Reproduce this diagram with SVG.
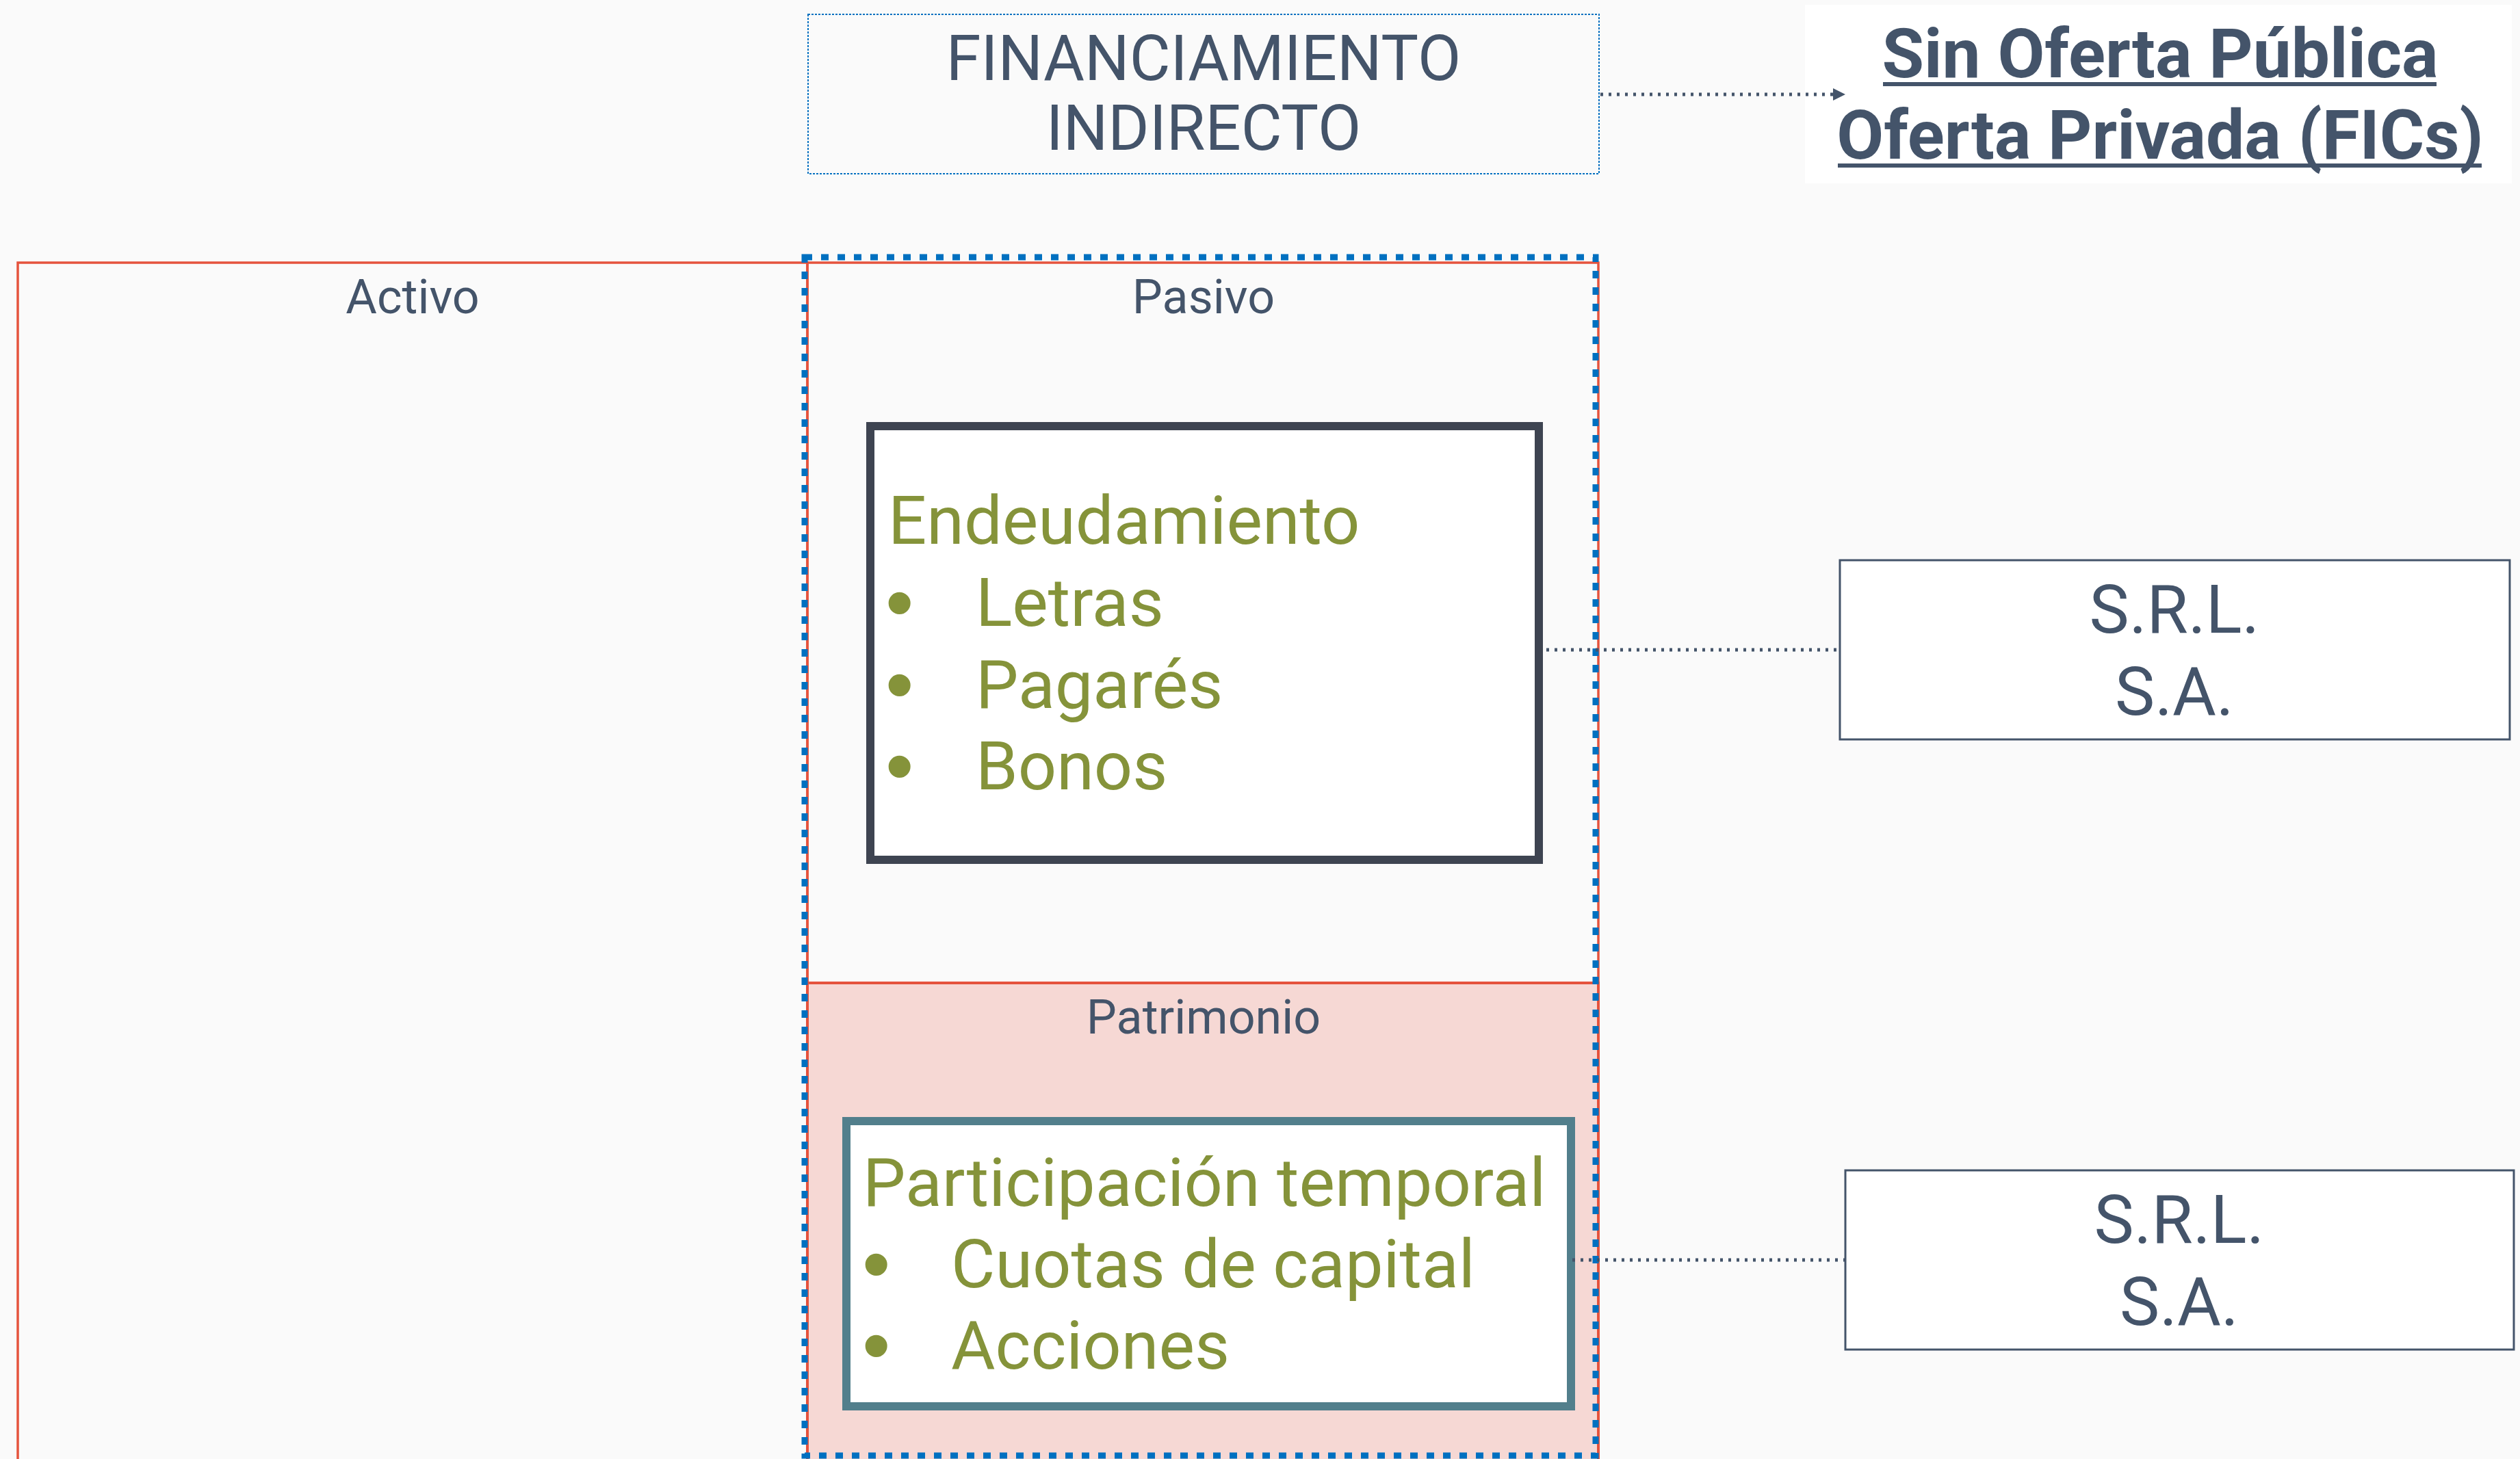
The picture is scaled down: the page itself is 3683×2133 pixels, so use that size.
<svg xmlns="http://www.w3.org/2000/svg" width="3683" height="2133" viewBox="0 0 3683 2133">
<defs>
<style>
.t{font-family:Roboto,"Liberation Sans",sans-serif;fill:#44546A}
.g{font-family:Roboto,"Liberation Sans",sans-serif;fill:#85933A;font-size:99px}
.b{font-family:"Liberation Sans",Arial,sans-serif;fill:#85933A;font-size:118px}
.ul{stroke:#44546A;stroke-width:6}
.red{fill:none;stroke:#E5533D;stroke-width:3.5}
.dot{stroke:#44546A;stroke-width:5;stroke-dasharray:4 8;fill:none}
</style>
<marker id="ah" viewBox="0 0 10 10" refX="10" refY="5" markerWidth="20" markerHeight="18" markerUnits="userSpaceOnUse" orient="auto">
<path d="M0,0 L10,5 L0,10 Z" fill="#44546A"/>
</marker>
</defs>
<rect x="0" y="0" width="3683" height="2133" fill="#FAFAFA"/>

<g id="activo">
<rect class="red" x="26" y="384" width="1154" height="1800"/>
<text class="t" x="603" y="458" font-size="70" text-anchor="middle">Activo</text>
</g>

<g id="pasivo">
<rect class="red" x="1180" y="384" width="1156" height="1800"/>
<text class="t" x="1759" y="458" font-size="70" text-anchor="middle">Pasivo</text>
</g>

<g id="patrimonio">
<rect x="1180" y="1437" width="1156" height="760" fill="#F6D8D4" stroke="#E5533D" stroke-width="4"/>
<text class="t" x="1759" y="1511" font-size="70" text-anchor="middle">Patrimonio</text>
</g>

<g id="frame-pasivo">
<rect x="1176" y="376" width="1156" height="1752" fill="none" stroke="#0070C0" stroke-width="9" stroke-dasharray="11 13"/>
</g>

<g id="financiamiento">
<rect x="1181" y="21" width="1156" height="233" fill="#FAFAFA" stroke="#0070C0" stroke-width="2" stroke-dasharray="3 2"/>
<text class="t" x="1759" y="117" font-size="92" text-anchor="middle">FINANCIAMIENTO</text>
<text class="t" x="1759" y="219" font-size="92" text-anchor="middle">INDIRECTO</text>
</g>

<g id="oferta">
<rect x="2638" y="7" width="1033" height="261" fill="#FFFFFF"/>
<text class="t" x="3157" y="113" font-size="100" font-weight="bold" text-anchor="middle">Sin Oferta Pública</text>
<line class="ul" x1="2752" y1="123" x2="3561" y2="123"/>
<text class="t" x="3157" y="232" font-size="100" font-weight="bold" text-anchor="middle">Oferta Privada (FICs)</text>
<line class="ul" x1="2686" y1="242" x2="3627" y2="242"/>
</g>

<g id="endeudamiento">
<rect x="1272" y="623" width="977" height="634" fill="#FFFFFF" stroke="#3E4451" stroke-width="12"/>
<text class="g" x="1298" y="795">Endeudamiento</text>
<text class="b" x="1294" y="921">•</text>
<text class="g" x="1426" y="915">Letras</text>
<text class="b" x="1294" y="1041">•</text>
<text class="g" x="1426" y="1035">Pagarés</text>
<text class="b" x="1294" y="1160">•</text>
<text class="g" x="1426" y="1154">Bonos</text>
</g>

<g id="participacion">
<rect x="1237" y="1639" width="1059" height="417" fill="#FFFFFF" stroke="#527F8C" stroke-width="12"/>
<text class="g" x="1261" y="1763">Participación temporal</text>
<text class="b" x="1260" y="1888">•</text>
<text class="g" x="1390" y="1882">Cuotas de capital</text>
<text class="b" x="1260" y="2007">•</text>
<text class="g" x="1390" y="2001">Acciones</text>
</g>

<g id="srl1">
<rect x="2689" y="819" width="979" height="262" fill="#FFFFFF" stroke="#44546A" stroke-width="3"/>
<text class="t" x="3178" y="925" font-size="98" text-anchor="middle">S.R.L.</text>
<text class="t" x="3178" y="1045" font-size="98" text-anchor="middle">S.A.</text>
</g>

<g id="srl2">
<rect x="2697" y="1711" width="977" height="262" fill="#FFFFFF" stroke="#44546A" stroke-width="3"/>
<text class="t" x="3185" y="1817" font-size="98" text-anchor="middle">S.R.L.</text>
<text class="t" x="3185" y="1937" font-size="98" text-anchor="middle">S.A.</text>
</g>

<g id="connectors">
<line class="dot" x1="2339" y1="138" x2="2697" y2="138" marker-end="url(#ah)"/>
<line class="dot" x1="2260" y1="950" x2="2688" y2="950"/>
<line class="dot" x1="2298" y1="1842" x2="2696" y2="1842"/>
</g>
</svg>
